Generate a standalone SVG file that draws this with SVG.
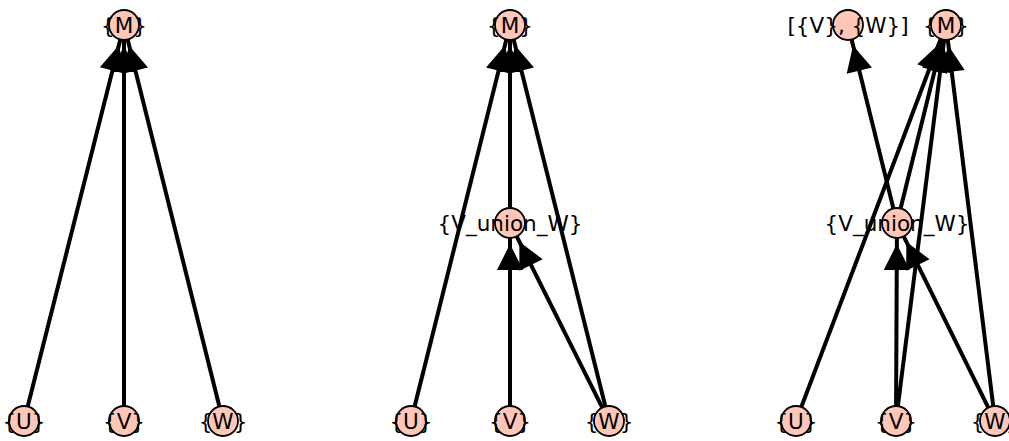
<svg xmlns="http://www.w3.org/2000/svg" width="1009" height="441" viewBox="0 0 1009 441">
<style>
.e{stroke:#000;stroke-width:4;fill:none;marker-end:url(#ah)}
.n circle{fill:#fec7b8;stroke:#000;stroke-width:1.8}
.n text{font-family:"DejaVu Sans",sans-serif;font-size:21.5px;text-anchor:middle;dominant-baseline:central;fill:#000}
</style>
<defs>
<marker id="ah" markerUnits="userSpaceOnUse" markerWidth="60" markerHeight="60" refX="0" refY="0" orient="auto" overflow="visible" viewBox="-40 -30 60 60">
<path d="M-32,-13 L-6,0 L-32,13 z" fill="#000"/>
</marker>
</defs>
<rect width="1009" height="441" fill="#fff"/>
<g id="connectors">
<line class="e" x1="27.7" y1="406.5" x2="120.3" y2="39.5"/>
<line class="e" x1="124" y1="406" x2="124" y2="40"/>
<line class="e" x1="219.4" y1="406.4" x2="127.6" y2="39.6"/>
<line class="e" x1="414.6" y1="406.4" x2="506.4" y2="39.6"/>
<line class="e" x1="510" y1="208" x2="510" y2="40"/>
<line class="e" x1="605.4" y1="406.4" x2="513.6" y2="39.6"/>
<line class="e" x1="510" y1="406" x2="510" y2="238"/>
<line class="e" x1="602.3" y1="407.6" x2="516.7" y2="236.4"/>
<line class="e" x1="801.3" y1="407.0" x2="940.7" y2="39.0"/>
<line class="e" x1="897.9" y1="406.1" x2="944.1" y2="39.9"/>
<line class="e" x1="993.2" y1="406.1" x2="947.8" y2="39.9"/>
<line class="e" x1="900.6" y1="208.4" x2="942.4" y2="39.6"/>
<line class="e" x1="893.4" y1="208.4" x2="851.6" y2="39.6"/>
<line class="e" x1="896.1" y1="406" x2="896.9" y2="238"/>
<line class="e" x1="988.3" y1="407.6" x2="903.7" y2="236.4"/>
</g>
<g id="g1-M" class="n"><circle cx="124" cy="25" r="15"/><text x="124" y="25">{M}</text></g>
<g id="g1-U" class="n"><circle cx="24" cy="421" r="15"/><text x="24" y="421">{U}</text></g>
<g id="g1-V" class="n"><circle cx="124" cy="421" r="15"/><text x="124" y="421">{V}</text></g>
<g id="g1-W" class="n"><circle cx="223" cy="421" r="15"/><text x="223" y="421">{W}</text></g>
<g id="g2-M" class="n"><circle cx="510" cy="25" r="15"/><text x="510" y="25">{M}</text></g>
<g id="g2-VuW" class="n"><circle cx="510" cy="223" r="15"/><text x="510" y="223">{V_union_W}</text></g>
<g id="g2-U" class="n"><circle cx="411" cy="421" r="15"/><text x="411" y="421">{U}</text></g>
<g id="g2-V" class="n"><circle cx="510" cy="421" r="15"/><text x="510" y="421">{V}</text></g>
<g id="g2-W" class="n"><circle cx="609" cy="421" r="15"/><text x="609" y="421">{W}</text></g>
<g id="g3-L" class="n"><circle cx="848" cy="25" r="15"/><text x="848" y="25">[{V}, {W}]</text></g>
<g id="g3-M" class="n"><circle cx="946" cy="25" r="15"/><text x="946" y="25">{M}</text></g>
<g id="g3-VuW" class="n"><circle cx="897" cy="223" r="15"/><text x="897" y="223">{V_union_W}</text></g>
<g id="g3-U" class="n"><circle cx="796" cy="421" r="15"/><text x="796" y="421">{U}</text></g>
<g id="g3-V" class="n"><circle cx="896" cy="421" r="15"/><text x="896" y="421">{V}</text></g>
<g id="g3-W" class="n"><circle cx="995" cy="421" r="15"/><text x="995" y="421">{W}</text></g>
</svg>
